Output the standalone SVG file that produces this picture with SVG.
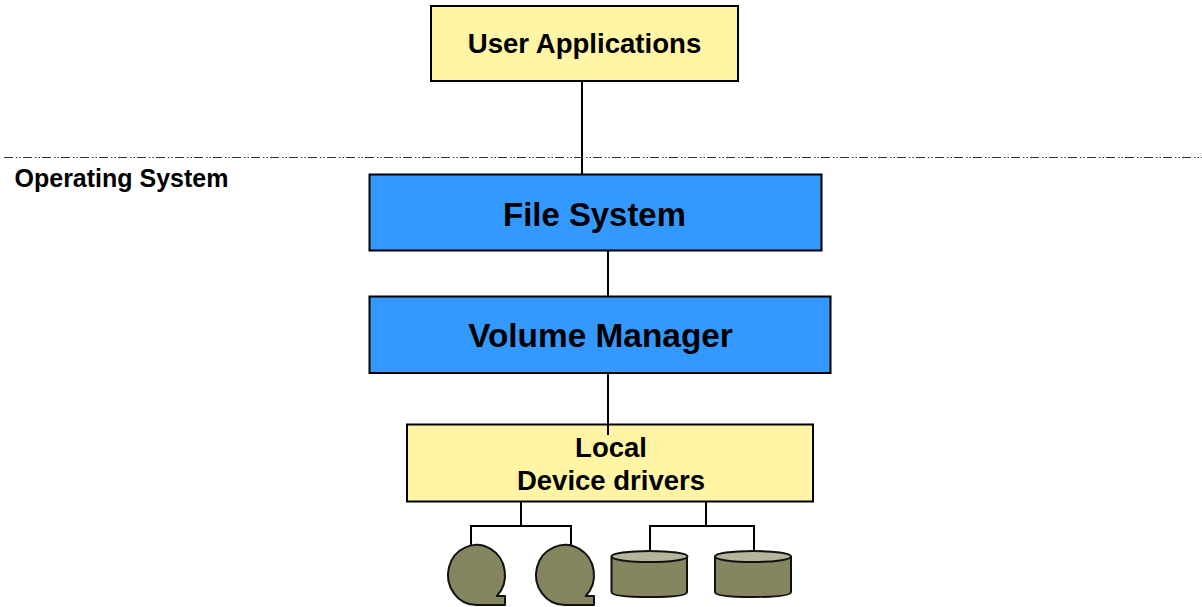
<svg xmlns="http://www.w3.org/2000/svg" width="1202" height="607" viewBox="0 0 1202 607">
<defs><style>
text{font-family:"Liberation Sans",Arial,sans-serif;font-weight:bold;fill:#000;text-anchor:middle}
.y{fill:#fff5a5;stroke:#000;stroke-width:2}
.b{fill:#3399ff;stroke:#000;stroke-width:2}
.c{fill:none;stroke:#000;stroke-width:2}
.d{fill:#85855f;stroke:#111;stroke-width:2;stroke-linejoin:round}
.t{fill:#b4b59c;stroke:#111;stroke-width:2}
</style></defs>
<rect width="1202" height="607" fill="#fff"/>
<g id="connectors">
<path class="c" d="M582 82V174M608 251V296M608 373V435M521 502V526M471 546V526H571V546M706 502V526M650 551V526H754V551"/>
<path d="M4 157.500H1202" fill="none" stroke="#333" stroke-width="1" stroke-dasharray="9 3 1.500 2 1.500 2"/>
</g>
<g id="user-applications"><rect class="y" x="431" y="6" width="307" height="75"/><text x="584.500" y="53" font-size="27.600">User Applications</text></g>
<g id="os-label"><text x="121.500" y="186.500" font-size="25">Operating System</text></g>
<g id="file-system"><rect class="b" x="369.500" y="174.500" width="452" height="76"/><text x="594.500" y="225.500" font-size="32.900">File System</text></g>
<g id="volume-manager"><rect class="b" x="369.500" y="296.500" width="461" height="76.500"/><text x="600.500" y="347" font-size="33.400">Volume Manager</text></g>
<g id="device-drivers"><rect class="y" x="407" y="424.500" width="406" height="77"/><path class="c" d="M608 424V435"/><text x="611" y="456.500" font-size="27.500">Local</text><text x="611" y="490" font-size="27.500">Device drivers</text></g>
<g id="tape-1"><path class="d" d="M476.500 605H505V596H496.850A28.500 30 0 1 0 476.500 605Z"/></g>
<g id="tape-2"><path class="d" d="M565 605H594V596H585.700A29 30 0 1 0 565 605Z"/></g>
<g id="disk-1"><path class="d" d="M611.500 556.500V592Q611.500 597 649.500 597Q687 597 687 592V556.500Z"/><ellipse class="t" cx="649.500" cy="556.500" rx="38" ry="5.500"/></g>
<g id="disk-2"><path class="d" d="M715 556.500V592Q715 597 753 597Q791 597 791 592V556.500Z"/><ellipse class="t" cx="753" cy="556.500" rx="38" ry="5.500"/></g>
</svg>
